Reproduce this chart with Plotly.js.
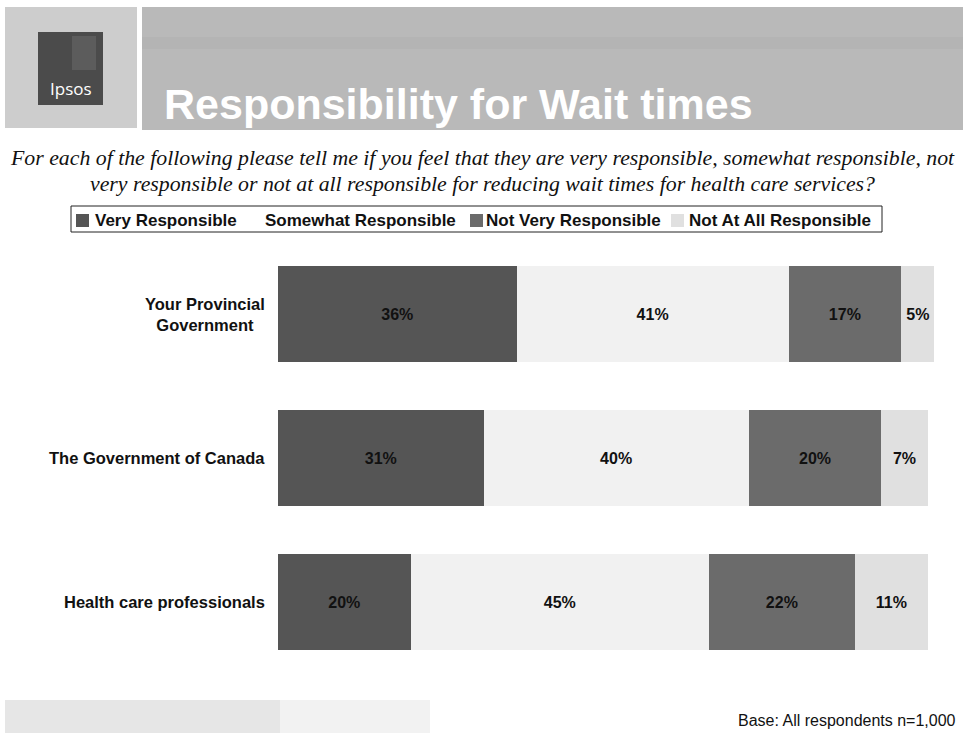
<!DOCTYPE html>
<html>
<head>
<meta charset="utf-8">
<script src="https://cdn.plot.ly/plotly-3.0.1.min.js"></script>
<style>
html,body{margin:0;padding:0;background:#fff;}
#chart{width:963px;height:733px;}
</style>
</head>
<body>
<div id="chart"></div>
<script>
// ---- data ----
var categories = ["Your Provincial Government", "The Government of Canada", "Health care professionals"];
var categoryLabels = ["Your Provincial<br>Government", "The Government of Canada", "Health care professionals"];
var seriesNames = ["Very Responsible", "Somewhat Responsible", "Not Very Responsible", "Not At All Responsible"];
var veryResponsible = [36, 31, 20];
var somewhatResponsible = [41, 40, 45];
var notVeryResponsible = [17, 20, 22];
var notAtAllResponsible = [5, 7, 11];
var seriesColors = ["#555555", "#f1f1f1", "#6b6b6b", "#e0e0e0"];

var titleText = "Responsibility for Wait times";
var subtitleLines = [
  "For each of the following please tell me if you feel that they are very responsible, somewhat responsible, not",
  "very responsible or not at all responsible for reducing wait times for health care services?"
];
var baseNote = "Base: All respondents n=1,000";
var logoText = "Ipsos";

// ---- layout geometry ----
var W = 963, H = 733;
var M = {l: 278, r: 22, t: 242, b: 59};
var PW = W - M.l - M.r, PH = H - M.t - M.b;
function px(x){ return (x - M.l) / PW; }
function py(y){ return (H - M.b - y) / PH; }

var FONT = "Liberation Sans, Arial, sans-serif";
var seriesValues = [veryResponsible, somewhatResponsible, notVeryResponsible, notAtAllResponsible];
var traces = seriesValues.map(function(vals, i){
  return {
    type: "bar",
    orientation: "h",
    name: seriesNames[i],
    y: categories,
    x: vals,
    marker: {color: seriesColors[i], line: {width: 0}},
    text: vals.map(function(v){ return v + "%"; }),
    textposition: "inside",
    insidetextanchor: "middle",
    constraintext: "none",
    textfont: {family: FONT, size: 16, color: "#111", weight: "bold"},
    hoverinfo: "skip",
    showlegend: false
  };
});

var shapes = [
  // header panels
  {type:"rect", xref:"paper", yref:"paper", x0:px(5), x1:px(137), y0:py(128), y1:py(7), fillcolor:"#cdcdcd", line:{width:0}, layer:"below"},
  {type:"rect", xref:"paper", yref:"paper", x0:px(142), x1:px(963), y0:py(130), y1:py(7), fillcolor:"#b9b9b9", line:{width:0}, layer:"below"},
  {type:"rect", xref:"paper", yref:"paper", x0:px(142), x1:px(963), y0:py(49), y1:py(37), fillcolor:"#adadad", opacity:0.35, line:{width:0}, layer:"below"},
  // logo
  {type:"rect", xref:"paper", yref:"paper", x0:px(38), x1:px(103), y0:py(105), y1:py(32), fillcolor:"#4b4b4b", line:{width:0}, layer:"below"},
  {type:"rect", xref:"paper", yref:"paper", x0:px(72), x1:px(96), y0:py(70), y1:py(36), fillcolor:"#5c5c5c", line:{width:0}, layer:"below"},
  // footer band
  {type:"rect", xref:"paper", yref:"paper", x0:px(5), x1:px(280), y0:py(733), y1:py(700), fillcolor:"#e6e6e6", line:{width:0}, layer:"below"},
  {type:"rect", xref:"paper", yref:"paper", x0:px(280), x1:px(430), y0:py(733), y1:py(700), fillcolor:"#f2f2f2", line:{width:0}, layer:"below"},
  // legend frame
  {type:"rect", xref:"paper", yref:"paper", x0:px(71), x1:px(882), y0:py(232), y1:py(206), fillcolor:"#ffffff", line:{color:"#222", width:1}}
];

var legendSquareX = [76, null, 470, 671];
var legendTextX = [94, 264, 485, 688];

var annotations = [
  {xref:"paper", yref:"paper", x:px(70.5), y:py(88), text:logoText, showarrow:false, xanchor:"center", yanchor:"middle",
   font:{family:"Open Sans, Liberation Sans, sans-serif", size:17, color:"#ffffff"}},
  {xref:"paper", yref:"paper", x:px(162), y:py(104), text:titleText, showarrow:false, xanchor:"left", yanchor:"middle",
   font:{family:FONT, size:43, color:"#ffffff", weight:"bold"}},
  {xref:"paper", yref:"paper", x:px(482), y:py(158), text:subtitleLines[0], showarrow:false, xanchor:"center", yanchor:"middle",
   font:{family:"Liberation Serif, Times New Roman, serif", size:21.8, color:"#111", style:"italic"}},
  {xref:"paper", yref:"paper", x:px(482), y:py(184), text:subtitleLines[1], showarrow:false, xanchor:"center", yanchor:"middle",
   font:{family:"Liberation Serif, Times New Roman, serif", size:21.8, color:"#111", style:"italic"}},
  {xref:"paper", yref:"paper", x:px(958), y:py(720), text:baseNote, showarrow:false, xanchor:"right", yanchor:"middle",
   font:{family:FONT, size:16, color:"#111"}}
];
seriesNames.forEach(function(n, i){
  if (legendSquareX[i] !== null) {
    shapes.push({type:"rect", xref:"paper", yref:"paper", x0:px(legendSquareX[i]), x1:px(legendSquareX[i] + 13),
      y0:py(227), y1:py(214), fillcolor:seriesColors[i], line:{width:0}});
  }
  annotations.push({xref:"paper", yref:"paper", x:px(legendTextX[i]), y:py(220), text:n, showarrow:false,
    xanchor:"left", yanchor:"middle", xshift:-1,
    font:{family:FONT, size:17, color:"#111", weight:"bold"}});
});
categories.forEach(function(c, i){
  annotations.push({xref:"paper", yref:"y", x:px(267), y:c, text:categoryLabels[i], showarrow:false,
    xanchor:"right", yanchor:"middle", align:"center",
    font:{family:FONT, size:16.5, color:"#111", weight:"bold"}});
});

var layout = {
  width: W, height: H,
  margin: M,
  paper_bgcolor: "#ffffff",
  plot_bgcolor: "#ffffff",
  barmode: "stack",
  bargap: 0.333,
  showlegend: false,
  xaxis: {range: [0, 100], visible: false, fixedrange: true},
  yaxis: {type: "category", categoryorder: "array", categoryarray: categories.slice().reverse(),
          range: [-0.5, 2.5], showticklabels: false, showgrid: false, zeroline: false, showline: false, ticks: "", fixedrange: true},
  shapes: shapes,
  annotations: annotations
};

Plotly.newPlot("chart", traces, layout, {displayModeBar: false, staticPlot: true});
</script>
</body>
</html>
